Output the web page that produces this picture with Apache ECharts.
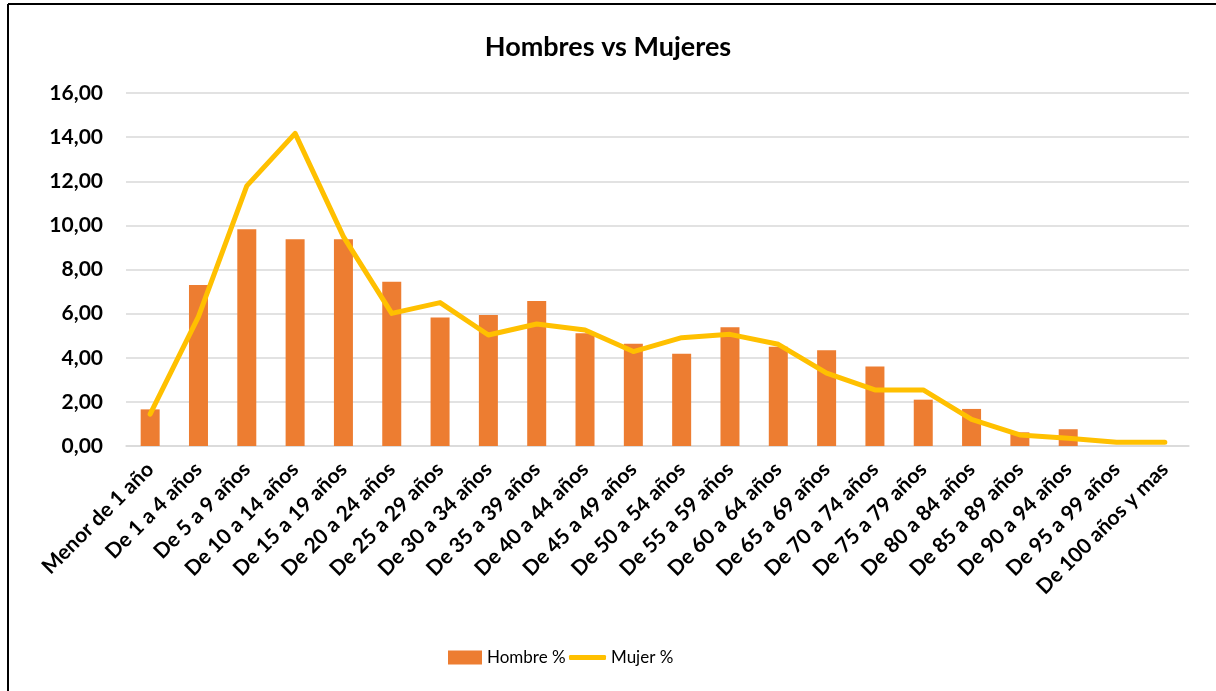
<!DOCTYPE html>
<html>
<head>
<meta charset="utf-8">
<title>Hombres vs Mujeres</title>
<script src="https://cdn.jsdelivr.net/npm/echarts@6/dist/echarts.min.js"></script>
<style>
  html, body { margin: 0; padding: 0; background: #fff; }
  #main { width: 1216px; height: 691px; }
</style>
</head>
<body>
<div id="main"></div>
<script>
// grupos de edad
var categorias = ['Menor de 1 año', 'De 1 a 4 años', 'De 5 a 9 años', 'De 10 a 14 años',
  'De 15 a 19 años', 'De 20 a 24 años', 'De 25 a 29 años', 'De 30 a 34 años',
  'De 35 a 39 años', 'De 40 a 44 años', 'De 45 a 49 años', 'De 50 a 54 años',
  'De 55 a 59 años', 'De 60 a 64 años', 'De 65 a 69 años', 'De 70 a 74 años',
  'De 75 a 79 años', 'De 80 a 84 años', 'De 85 a 89 años', 'De 90 a 94 años',
  'De 95 a 99 años', 'De 100 años y mas'];

var hombres = [1.66, 7.30, 9.82, 9.37, 9.37, 7.45, 5.82, 5.94, 6.57, 5.11, 4.64, 4.18,
  5.38, 4.50, 4.34, 3.60, 2.10, 1.68, 0.62, 0.76, 0, 0];

var mujeres = [1.44, 5.86, 11.79, 14.17, 9.49, 6.01, 6.50, 5.03, 5.53, 5.26, 4.28, 4.91,
  5.06, 4.61, 3.30, 2.54, 2.54, 1.21, 0.50, 0.35, 0.17, 0.17];

var fuente = 'Lato, "Open Sans", sans-serif';

var myChart = echarts.init(document.getElementById('main'));

var option = {
  backgroundColor: '#fff',
  animation: false,
  textStyle: { fontFamily: fuente },
  title: {
    text: 'Hombres vs Mujeres',
    left: 'center',
    top: 29,
    textStyle: { fontFamily: fuente, fontSize: 27, fontWeight: 'bold', color: '#000' }
  },
  // dos leyendas: el icono de la barra es más alto que el de la línea
  legend: [
    {
      left: 443,
      top: 644,
      itemWidth: 34,
      itemHeight: 14,
      icon: 'rect',
      textStyle: { fontFamily: fuente, fontSize: 17, color: '#000' },
      data: ['Hombre %']
    },
    {
      left: 564,
      top: 644,
      itemWidth: 37,
      itemHeight: 5,
      icon: 'roundRect',
      textStyle: { fontFamily: fuente, fontSize: 17, color: '#000' },
      data: ['Mujer %']
    }
  ],
  grid: { left: 126, right: 27, top: 93, bottom: 245 },
  xAxis: {
    type: 'category',
    data: categorias,
    boundaryGap: true,
    axisLine: { lineStyle: { color: '#D9D9D9', width: 1.5 } },
    axisTick: { show: false },
    axisLabel: {
      interval: 0,
      rotate: 45,
      margin: 20,
      fontFamily: fuente,
      fontSize: 21,
      fontWeight: 'bold',
      color: '#000'
    }
  },
  yAxis: {
    type: 'value',
    min: 0,
    max: 16,
    interval: 2,
    axisLine: { show: false },
    axisTick: { show: false },
    splitLine: { lineStyle: { color: '#D9D9D9', width: 1.5 } },
    axisLabel: {
      margin: 23,
      fontFamily: fuente,
      fontSize: 21,
      fontWeight: 'bold',
      color: '#000',
      formatter: function (v) { return v.toFixed(2).replace('.', ','); }
    }
  },
  series: [
    {
      name: 'Hombre %',
      type: 'bar',
      data: hombres,
      barWidth: 19,
      itemStyle: { color: '#ED7D31' }
    },
    {
      name: 'Mujer %',
      type: 'line',
      data: mujeres,
      symbol: 'none',
      lineStyle: { color: '#FFC000', width: 5, cap: 'round', join: 'round' },
      itemStyle: { color: '#FFC000' }
    }
  ],
  graphic: [
    { type: 'line', shape: { x1: 8, y1: 4, x2: 1216, y2: 4 }, style: { stroke: '#000', lineWidth: 2 } },
    { type: 'line', shape: { x1: 8, y1: 4, x2: 8, y2: 691 }, style: { stroke: '#000', lineWidth: 2 } }
  ]
};

myChart.setOption(option);
</script>
</body>
</html>
